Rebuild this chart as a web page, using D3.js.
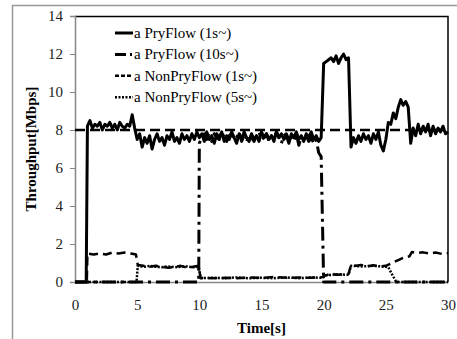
<!DOCTYPE html>
<html>
<head>
<meta charset="utf-8">
<script src="https://cdn.jsdelivr.net/npm/d3@7/dist/d3.min.js"></script>
<style>
  body { margin: 0; background: #fff; }
  svg text { font-family: "Liberation Serif", "Times New Roman", serif !important; }
</style>
</head>
<body>
<div id="painting"></div>
<script>
// sample times for the noisy parts are every 0.2 s
var seg = function(t0, vals) {
  return vals.map(function(v, i) { return [+(t0 + 0.2 * i).toFixed(2), v]; });
};

var seriesNames = ["a PryFlow (1s~)", "a PryFlow (10s~)", "a NonPryFlow (1s~)", "a NonPryFlow (5s~)"];
var xTicks = [0, 5, 10, 15, 20, 25, 30];
var yTicks = [0, 2, 4, 6, 8, 10, 12, 14];
var refLevel = [[0, 8], [30, 8]];

var pryFlow1 = [[0, 0], [0.9, 0]]
  .concat(seg(1.0, [8.2,8.5,8.1,8.3,8.2,8.4,8.0,8.3,8.2,8.4,8.1,8.3,8.0,8.4,8.2,8.1,8.3,8.2,8.8,8.1]))
  .concat(seg(5.0, [7.5,7.8,7.1,7.6,7.3,7.7,7.0,7.5,7.8,7.4,7.6,7.2,7.7,7.5,7.9,7.4,7.6,7.3,7.8,7.5,
                    7.7,7.4,7.8,7.5,7.9,7.6,7.8,7.4,7.9,7.5,7.7,7.3,7.8,7.6,7.9,7.4,7.7,7.5,7.9,7.6,
                    7.3,7.8,7.5,7.9,7.6,7.4,7.8,7.5,7.7,7.4,7.9,7.6,7.8,7.5,7.7,7.4,7.9,7.6,7.8,7.5,
                    7.7,7.3,7.8,7.6,7.9,7.5,7.7,7.4,7.8,7.6,7.9,7.5,7.7,7.4,7.6]))
  .concat([[20.0, 11.5]])
  .concat(seg(20.2, [11.6,11.7,11.8,11.6,11.9,11.5,11.8,12.0,11.7,11.8]))
  .concat(seg(22.2, [7.1,7.6,7.3,7.7,7.4,7.8,7.5,7.7,7.3,7.8,7.5,7.9,7.2,6.9,7.5,8.4,8.3,8.9,8.6,9.2,
                     9.6,9.3,9.5,9.2,7.3,8.1,7.7,8.3,7.8,8.2,7.9,8.3,7.7,8.2,7.8,8.1,7.9,8.2,7.8,7.9]));

var pryFlow10 = [[0, 0], [9.95, 0]]
  .concat(seg(10.0, [7.3,7.6,7.8,7.5,7.7,7.4,7.8,7.6,7.5,7.9,7.6,7.4,7.7,7.8,7.5,7.6,7.9,7.4,7.7,7.5,
                     7.8,7.6,7.4,7.7,7.9,7.5,7.6,7.8,7.4,7.7,7.5,7.9,7.6,7.3,7.7,7.8,7.5,7.6,7.4,7.8,
                     7.2,7.6,7.5,7.7,7.4,7.6,7.3,7.5,6.8,6.6]))
  .concat([[20.0, 0], [30, 0]]);

var nonPry1 = [[0,0],[0.95,0],[1.0,1.5],[1.5,1.45],[2,1.5],[2.5,1.45],[3,1.55],[3.5,1.5],[4,1.55],[4.5,1.5],
  [4.9,1.45],[5.05,0.9],[5.5,0.85],[6,0.8],[6.5,0.85],[7,0.8],[7.5,0.75],[8,0.8],[8.5,0.85],[9,0.75],
  [9.5,0.8],[9.95,0.85],[10.1,0.22],[11,0.2],[12,0.22],[13,0.2],[14,0.24],[15,0.22],[16,0.26],[17,0.22],
  [18,0.24],[19,0.22],[19.9,0.26],[20.2,0.36],[20.6,0.45],[21,0.38],[21.5,0.4],[22,0.42],[22.2,0.9],
  [22.6,0.85],[23,0.9],[23.5,0.82],[24,0.88],[24.5,0.82],[25,0.85],[25.5,1.0],[26,1.15],[26.5,1.3],
  [26.9,1.35],[27.1,1.58],[27.5,1.52],[28,1.56],[28.5,1.5],[29,1.55],[29.5,1.48],[30,1.52]];

var nonPry5 = [[0,0],[4.95,0],[5.05,0.85],[5.5,0.8],[6,0.85],[6.5,0.8],[7,0.78],[7.5,0.82],[8,0.78],
  [8.5,0.8],[9,0.82],[9.5,0.78],[9.95,0.8],[10.1,0.2],[11,0.22],[12,0.2],[13,0.24],[14,0.2],[15,0.22],
  [16,0.2],[17,0.24],[18,0.2],[19,0.24],[19.9,0.22],[20.2,0.35],[21,0.4],[22,0.38],[22.2,0.85],[23,0.82],
  [24,0.85],[25,0.8],[25.2,0.78],[25.5,0.4],[25.8,0.05],[26,0],[30,0]];

var allSeries = [nonPry5, nonPry1, pryFlow10, pryFlow1];
var styles = [
  { width: 3, dash: null },          // PryFlow 1s
  { width: 3, dash: "14,5,3,5" },    // PryFlow 10s
  { width: 2.5, dash: "9,5" },       // NonPry 1s
  { width: 2.5, dash: "2,1.5" }      // NonPry 5s
];

var W = 457, H = 339;
var margin = {top: 16, right: 9, bottom: 57, left: 75};
var w = W - margin.left - margin.right;
var h = H - margin.top - margin.bottom;

var svg = d3.select("#painting").append("svg")
  .attr("width", W).attr("height", H);

// outer gray frame
svg.append("rect")
  .attr("x", 12.5).attr("y", 5.5).attr("width", 520).attr("height", 400)
  .attr("fill", "none").attr("stroke", "#999").attr("stroke-width", 1.5);

var g = svg.append("g").attr("transform", "translate(" + margin.left + "," + margin.top + ")");

var xScale = d3.scaleLinear().domain([0, 30]).range([0, w]);
var yScale = d3.scaleLinear().domain([0, 14]).range([h, 0]);

// plot box: black top and right
g.append("path")
  .attr("d", "M0,0.5H" + w + "V" + h)
  .attr("fill", "none").attr("stroke", "#000").attr("stroke-width", 1.5);

var yAxis = d3.axisLeft(yScale).tickValues(yTicks).tickSize(5).tickPadding(7);
var xAxis = d3.axisBottom(xScale).tickValues(xTicks).tickSize(0).tickPadding(17);

var gy = g.append("g").call(yAxis);
var gx = g.append("g").attr("transform", "translate(0," + h + ")").call(xAxis);
[gx, gy].forEach(function(a) {
  a.attr("font-family", null);
  a.select(".domain").attr("stroke", "#868686").attr("stroke-width", 1.5);
  a.selectAll(".tick line").attr("stroke", "#868686").attr("stroke-width", 1);
  a.selectAll("text").attr("font-size", 15).attr("fill", "#222");
});

var line = d3.line()
  .x(function(d) { return xScale(d[0]); })
  .y(function(d) { return yScale(d[1]); });

// reference level line
g.append("path").datum(refLevel)
  .attr("d", line).attr("fill", "none").attr("stroke", "#000")
  .attr("stroke-width", 2.5).attr("stroke-dasharray", "10,5");

allSeries.forEach(function(s, k) {
  var st = styles[3 - k];
  g.append("path").datum(s)
    .attr("d", line)
    .attr("fill", "none")
    .attr("stroke", "#000")
    .attr("stroke-width", st.width)
    .attr("stroke-linejoin", "round")
    .attr("stroke-dasharray", st.dash);
});

// legend
var legend = svg.append("g").attr("transform", "translate(115,33)");
seriesNames.forEach(function(name, i) {
  var row = legend.append("g").attr("transform", "translate(0," + (i * 21.4) + ")");
  row.append("line").attr("x1", 0).attr("x2", 18).attr("y1", 0).attr("y2", 0)
    .attr("stroke", "#000").attr("stroke-width", styles[i].width)
    .attr("stroke-dasharray", i === 1 ? "11,4,2,4" : (i === 2 ? "4,2" : styles[i].dash));
  row.append("text").attr("x", 19).attr("y", 5).attr("font-size", 15).text(name);
});

// axis titles
svg.append("text")
  .attr("x", margin.left + w / 2).attr("y", 333)
  .attr("text-anchor", "middle").attr("font-size", 15).attr("font-weight", "bold")
  .text("Time[s]");
svg.append("text")
  .attr("transform", "translate(36," + (margin.top + h / 2) + ") rotate(-90)")
  .attr("text-anchor", "middle").attr("font-size", 15).attr("font-weight", "bold")
  .text("Throughput[Mbps]");
</script>
</body>
</html>
